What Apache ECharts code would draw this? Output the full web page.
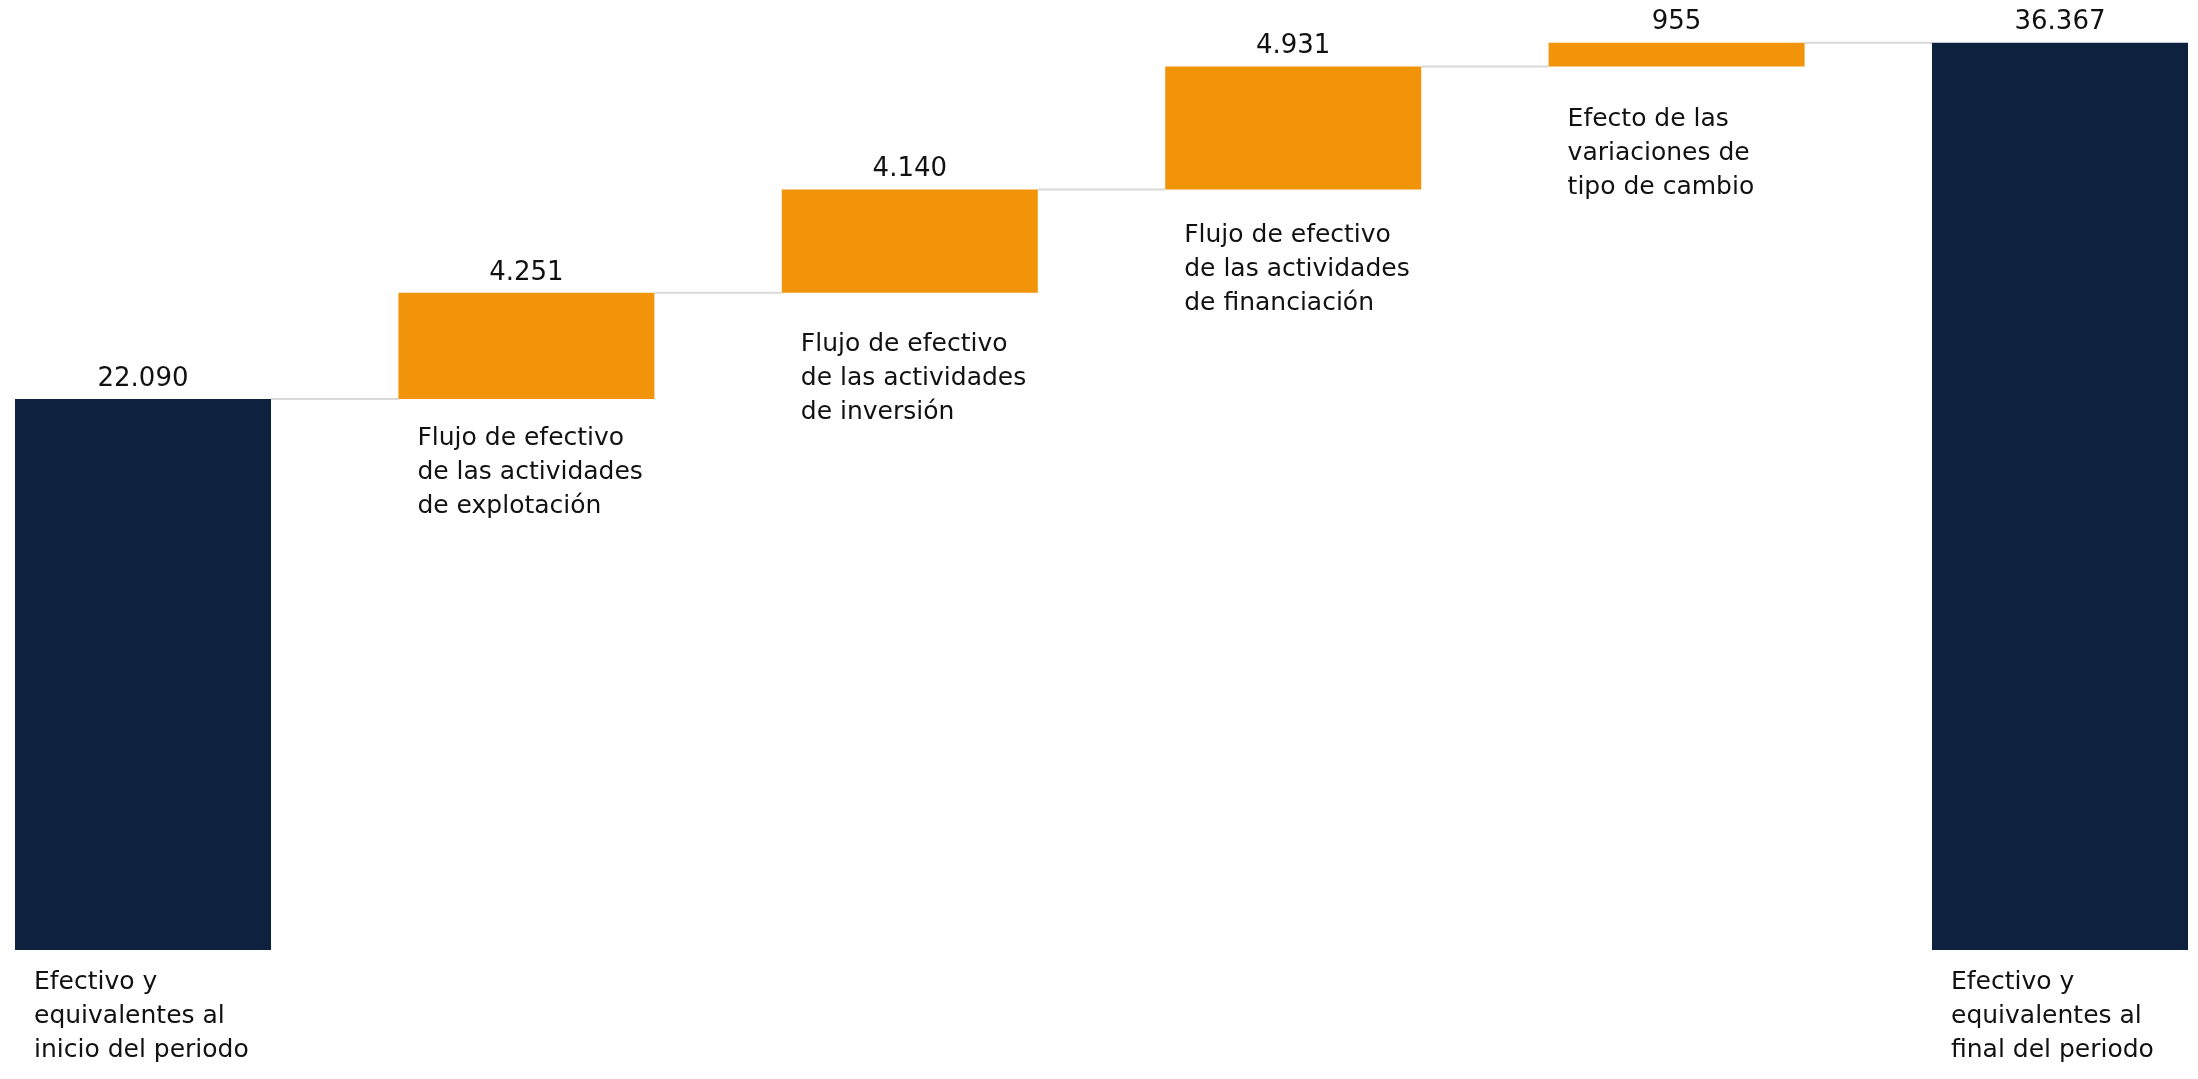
<!DOCTYPE html>
<html>
<head>
<meta charset="utf-8">
<title>Flujo de efectivo</title>
<script src="https://cdn.jsdelivr.net/npm/echarts@6/dist/echarts.min.js"></script>
<style>
    html, body { margin: 0; padding: 0; background: #fff; }
    #chart { width: 2198px; height: 1079px; }
</style>
</head>
<body>
<div id="chart"></div>
<script>
// data
var categories = [
    'Efectivo y\nequivalentes al\ninicio del periodo',
    'Flujo de efectivo\nde las actividades\nde explotación',
    'Flujo de efectivo\nde las actividades\nde inversión',
    'Flujo de efectivo\nde las actividades\nde financiación',
    'Efecto de las\nvariaciones de\ntipo de cambio',
    'Efectivo y\nequivalentes al\nfinal del periodo'
];
var amounts = [22090, 4251, 4140, 4931, 955, 36367];
var isTotal = [true, false, false, false, false, true];

// styling
var NAVY = '#0e2240', ORANGE = '#f29409', LINK = '#d9d9d9';
var FONT = '"DejaVu Sans", sans-serif';
var BAR_W = 256;
var labelDy = [15, 23, 35, 29, 36, 15];   // gap under each bar to its name

// invisible base under each bar + running level
var bases = [], tops = [], running = 0;
for (var i = 0; i < amounts.length; i++) {
    if (isTotal[i]) {
        bases.push(0);
        running = amounts[i];
    } else {
        bases.push(running);
        running += amounts[i];
    }
    tops.push(running);
}
var links = [];
for (var j = 0; j < amounts.length - 1; j++) {
    links.push([j, tops[j]]);
}

function fmt(v) {
    return String(v).replace(/\B(?=(\d{3})+(?!\d))/g, '.');
}

var chart = echarts.init(document.getElementById('chart'));
chart.setOption({
    animation: false,
    grid: { left: 143, right: 138, top: 2, bottom: 129 },
    xAxis: {
        type: 'category',
        data: categories,
        boundaryGap: false,
        axisLine: { show: false },
        axisTick: { show: false },
        axisLabel: { show: false },
        splitLine: { show: false }
    },
    yAxis: {
        type: 'value',
        min: 0,
        max: 38000,
        show: false,
        splitLine: { show: false }
    },
    series: [{
        type: 'custom',
        z: 1,
        silent: true,
        data: links,
        renderItem: function (params, api) {
            var a = api.coord([api.value(0), api.value(1)]);
            var b = api.coord([api.value(0) + 1, api.value(1)]);
            return {
                type: 'line',
                shape: { x1: a[0] + BAR_W / 2, y1: a[1], x2: b[0] - BAR_W / 2, y2: b[1] },
                style: { stroke: LINK, lineWidth: 2 }
            };
        }
    }, {
        type: 'bar',
        stack: 'w',
        z: 2,
        barWidth: BAR_W,
        clip: false,
        silent: true,
        itemStyle: { color: 'transparent' },
        data: bases.map(function (b, i) {
            return { value: b, label: { offset: [19, labelDy[i]] } };
        }),
        label: {
            show: true,
            position: 'insideTopLeft',
            distance: 0,
            formatter: function (p) { return categories[p.dataIndex]; },
            color: '#111',
            fontFamily: FONT,
            fontSize: 25,
            lineHeight: 34
        }
    }, {
        type: 'bar',
        stack: 'w',
        z: 2,
        barWidth: BAR_W,
        clip: false,
        data: amounts.map(function (a, i) {
            return { value: a, itemStyle: { color: isTotal[i] ? NAVY : ORANGE } };
        }),
        label: {
            show: true,
            position: 'top',
            distance: 7,
            formatter: function (p) { return fmt(p.value); },
            color: '#111',
            fontFamily: FONT,
            fontSize: 26
        }
    }]
});
</script>
</body>
</html>
